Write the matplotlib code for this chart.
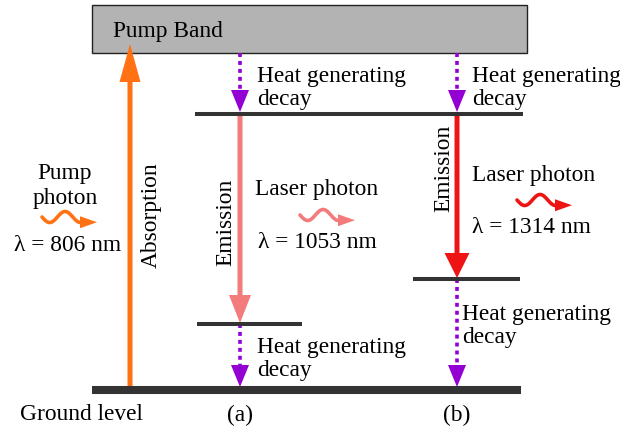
import numpy as np
import matplotlib.pyplot as plt
from matplotlib.patches import Rectangle

plt.rcParams['font.family'] = ['Liberation Serif', 'DejaVu Serif']

# energy levels (arbitrary units, ground = 0)
ground = 0
lower_a = 66
lower_b = 111
upper = 276
band_bottom = 337
band_top = 385

# x positions of the transitions
x_pump = 130
x_a = 240
x_b = 457

orange = '#FF7113'
pink = '#F47B7B'
red = '#EE1414'
purple = '#9400D3'
line_col = '#333333'
fs = 16.8

fig = plt.figure(figsize=(6.2, 4.35), dpi=100)
ax = fig.add_axes([0, 0, 1, 1])
ax.set_xlim(0, 620)
ax.set_ylim(-44, 391)
ax.axis('off')

# pump band
ax.add_patch(Rectangle((92, band_bottom), 435, band_top - band_bottom,
                       facecolor='#B3B3B3', edgecolor='#222222', lw=1, zorder=1))
ax.text(113, 360, 'Pump Band', fontsize=fs, va='center', ha='left', zorder=5)

# energy levels
ax.hlines(ground, 92, 521, color=line_col, lw=5.8, zorder=4)
ax.hlines(upper, 195, 523, color=line_col, lw=2.9, zorder=4)
ax.hlines(lower_a, 197, 302, color=line_col, lw=2.9, zorder=4)
ax.hlines(lower_b, 413, 520, color=line_col, lw=2.9, zorder=4)


def solid_arrow(x, y0, y1, color, hw, hl):
    ax.arrow(x, y0, 0, y1 - y0, width=5, head_width=hw, head_length=hl,
             length_includes_head=True, color=color, lw=0, zorder=3)


def dotted_arrow(x, y0, y1):
    hl = 22
    sign = 1 if y1 > y0 else -1
    ax.plot([x, x], [y0, y1 - sign * hl], color=purple, lw=2.6,
            linestyle=(0, (1.1, 1.1)), zorder=3)
    ax.arrow(x, y1 - sign * hl, 0, sign * hl, width=0.01, head_width=18,
             head_length=hl, length_includes_head=True, color=purple,
             lw=0, zorder=3)


def wavy_arrow(x0, y, color):
    t = np.linspace(0, 1, 100)
    xs = x0 + 40 * t
    ys = y - 5.5 * np.sin(2 * np.pi * 1.3 * t)
    ax.plot(xs, ys, color=color, lw=2.6, solid_capstyle='round', zorder=3)
    ax.arrow(xs[-1] - 2, ys[-1], 17, 0, width=0.01, head_width=12,
             head_length=17, length_includes_head=True, color=color,
             lw=0, zorder=3)


# absorption and emissions
solid_arrow(x_pump, ground, 346, orange, 21, 38)
solid_arrow(x_a, upper, lower_a + 1, pink, 22, 28)
solid_arrow(x_b, upper, lower_b + 1, red, 25, 25)

# non-radiative decays
dotted_arrow(x_a, band_bottom, upper + 2)
dotted_arrow(x_b, band_bottom, upper + 2)
dotted_arrow(x_a, lower_a, ground + 3)
dotted_arrow(x_b, lower_b, ground + 3)

# photons
wavy_arrow(42, 391 - 218, orange)
wavy_arrow(300, 391 - 216, pink)
wavy_arrow(517, 391 - 201, red)

# labels
ax.text(151, 391 - 215, 'Absorption', rotation=90, fontsize=fs,
        ha='center', va='center')
ax.text(226, 391 - 222, 'Emission', rotation=90, fontsize=fs,
        ha='center', va='center')
ax.text(444, 391 - 168, 'Emission', rotation=90, fontsize=fs,
        ha='center', va='center')

ax.text(65, 391 - 186, 'Pump\nphoton', fontsize=fs, ha='center', va='center',
        linespacing=1.2)
ax.text(68, 391 - 246, 'λ = 806 nm', fontsize=fs, ha='center', va='center')

ax.text(317, 391 - 190, 'Laser photon', fontsize=fs, ha='center', va='center')
ax.text(317, 391 - 243, 'λ = 1053 nm', fontsize=fs, ha='center', va='center')
ax.text(534, 391 - 175, 'Laser photon', fontsize=fs, ha='center', va='center')
ax.text(531, 391 - 228, 'λ = 1314 nm', fontsize=fs, ha='center', va='center')

heat = 'Heat generating\ndecay'
for hx, hy in [(257, 88), (472, 88), (257, 359), (462, 326)]:
    ax.text(hx, 391 - hy, heat, fontsize=fs, ha='left', va='center',
            linespacing=1.18)

ax.text(20, 391 - 415, 'Ground level', fontsize=fs, ha='left', va='center')
ax.text(x_a, 391 - 415, '(a)', fontsize=fs, ha='center', va='center')
ax.text(x_b, 391 - 415, '(b)', fontsize=fs, ha='center', va='center')

fig.savefig('out.png', dpi=100)
